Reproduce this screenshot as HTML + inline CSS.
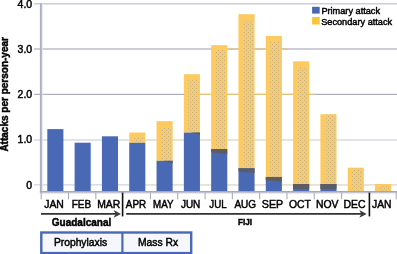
<!DOCTYPE html>
<html><head><meta charset="utf-8"><title>Attacks per person-year</title>
<style>html,body{margin:0;padding:0;background:#fff;}body{width:397px;height:254px;overflow:hidden;}svg{display:block;}</style>
</head><body>
<svg width="397" height="254" viewBox="0 0 397 254">
<defs><pattern id="dots" width="4" height="4" patternUnits="userSpaceOnUse"><rect x="0" y="0" width="1" height="1" fill="#c2b291"/><rect x="2" y="2" width="1" height="1" fill="#c2b291"/></pattern></defs>
<rect width="397" height="254" fill="#fff"/>
<rect x="34" y="184.25" width="363" height="1.2" fill="#cdd1e4"/>
<rect x="145.33" y="184.25" width="11.21" height="1.2" fill="#ede4c8"/>
<rect x="172.64" y="184.25" width="11.21" height="1.2" fill="#ede4c8"/>
<rect x="199.95" y="184.25" width="11.21" height="1.2" fill="#ede4c8"/>
<rect x="227.26" y="184.25" width="11.21" height="1.2" fill="#ede4c8"/>
<rect x="254.57" y="184.25" width="11.21" height="1.2" fill="#ede4c8"/>
<rect x="281.89" y="184.25" width="11.21" height="1.2" fill="#ede4c8"/>
<rect x="309.20" y="184.25" width="11.21" height="1.2" fill="#ede4c8"/>
<rect x="336.50" y="184.25" width="11.21" height="1.2" fill="#ede4c8"/>
<rect x="363.81" y="184.25" width="11.21" height="1.2" fill="#ede4c8"/>
<rect x="391.12" y="184.25" width="5.00" height="1.2" fill="#ede4c8"/>
<rect x="34" y="139.40" width="363" height="1.2" fill="#cdd1e4"/>
<rect x="145.33" y="139.40" width="11.21" height="1.2" fill="#ede4c8"/>
<rect x="172.64" y="139.40" width="11.21" height="1.2" fill="#ede4c8"/>
<rect x="199.95" y="139.40" width="11.21" height="1.2" fill="#ede4c8"/>
<rect x="227.26" y="139.40" width="11.21" height="1.2" fill="#ede4c8"/>
<rect x="254.57" y="139.40" width="11.21" height="1.2" fill="#ede4c8"/>
<rect x="281.89" y="139.40" width="11.21" height="1.2" fill="#ede4c8"/>
<rect x="309.20" y="139.40" width="11.21" height="1.2" fill="#ede4c8"/>
<rect x="336.50" y="139.40" width="5.00" height="1.2" fill="#ede4c8"/>
<rect x="34" y="93.80" width="363" height="1.2" fill="#adaebf"/>
<rect x="199.95" y="93.80" width="11.21" height="1.2" fill="#e3c47c"/>
<rect x="227.26" y="93.80" width="11.21" height="1.2" fill="#e3c47c"/>
<rect x="254.57" y="93.80" width="11.21" height="1.2" fill="#e3c47c"/>
<rect x="281.89" y="93.80" width="11.21" height="1.2" fill="#e3c47c"/>
<rect x="309.20" y="93.80" width="5.00" height="1.2" fill="#e3c47c"/>
<rect x="34" y="48.40" width="363" height="1.2" fill="#adaebf"/>
<rect x="227.26" y="48.40" width="11.21" height="1.2" fill="#e3c47c"/>
<rect x="254.57" y="48.40" width="11.21" height="1.2" fill="#e3c47c"/>
<rect x="281.89" y="48.40" width="5.00" height="1.2" fill="#e3c47c"/>
<rect x="34" y="3.20" width="363" height="1.2" fill="#bfc1d3"/>
<rect x="47.30" y="129.10" width="16.1" height="61.90" fill="#4a69b5"/>
<rect x="74.61" y="142.70" width="16.1" height="48.30" fill="#4a69b5"/>
<rect x="101.92" y="136.30" width="16.1" height="54.70" fill="#4a69b5"/>
<rect x="129.23" y="132.50" width="16.1" height="10.30" fill="#fdca5f"/>
<rect x="133.63" y="137.00" width="10.20" height="5.30" fill="url(#dots)"/>
<rect x="129.23" y="142.80" width="16.1" height="48.20" fill="#4a69b5"/>
<rect x="156.54" y="121.10" width="16.1" height="39.70" fill="#fdca5f"/>
<rect x="160.94" y="127.10" width="10.20" height="33.20" fill="url(#dots)"/>
<rect x="156.54" y="160.80" width="16.1" height="30.20" fill="#4a69b5"/>
<polygon points="163.54,160.80 172.64,160.80 172.64,163.60 170.64,162.80" fill="#5c5c62"/>
<rect x="183.85" y="74.20" width="16.1" height="58.40" fill="#fdca5f"/>
<rect x="188.25" y="80.20" width="10.20" height="51.90" fill="url(#dots)"/>
<rect x="183.85" y="132.60" width="16.1" height="58.40" fill="#4a69b5"/>
<polygon points="190.85,132.60 199.95,132.60 199.95,135.40 197.95,134.60" fill="#5c5c62"/>
<rect x="211.16" y="45.20" width="16.1" height="103.90" fill="#fdca5f"/>
<rect x="215.56" y="50.20" width="10.20" height="98.40" fill="url(#dots)"/>
<rect x="211.16" y="149.10" width="16.1" height="41.90" fill="#4a69b5"/>
<polygon points="211.16,149.10 227.26,149.10 227.26,154.20 211.16,152.30" fill="#5c5c62"/>
<rect x="238.47" y="14.20" width="16.1" height="154.00" fill="#fdca5f"/>
<rect x="242.88" y="20.70" width="10.20" height="147.00" fill="url(#dots)"/>
<rect x="238.47" y="168.20" width="16.1" height="22.80" fill="#4a69b5"/>
<polygon points="238.47,168.20 254.57,168.20 254.57,173.00 238.47,171.60" fill="#5c5c62"/>
<rect x="265.79" y="36.00" width="16.1" height="140.90" fill="#fdca5f"/>
<rect x="270.19" y="42.00" width="10.20" height="134.40" fill="url(#dots)"/>
<rect x="265.79" y="176.90" width="16.1" height="14.10" fill="#4a69b5"/>
<polygon points="265.79,176.90 281.89,176.90 281.89,181.50 265.79,180.40" fill="#5c5c62"/>
<rect x="293.10" y="61.30" width="16.1" height="122.70" fill="#fdca5f"/>
<rect x="297.50" y="67.30" width="10.20" height="116.20" fill="url(#dots)"/>
<rect x="293.10" y="184.00" width="16.1" height="7.00" fill="#4a69b5"/>
<polygon points="293.10,184.00 309.20,184.00 309.20,188.90 293.10,188.90" fill="#5c5c62"/>
<rect x="320.40" y="114.20" width="16.1" height="69.80" fill="#fdca5f"/>
<rect x="324.80" y="114.70" width="10.20" height="68.80" fill="url(#dots)"/>
<rect x="320.40" y="184.00" width="16.1" height="7.00" fill="#4a69b5"/>
<polygon points="320.40,184.00 336.50,184.00 336.50,188.90 320.40,188.90" fill="#5c5c62"/>
<rect x="347.71" y="167.70" width="16.1" height="23.30" fill="#fdca5f"/>
<rect x="352.11" y="168.70" width="10.20" height="21.80" fill="url(#dots)"/>
<rect x="375.02" y="184.00" width="16.1" height="7.00" fill="#fdca5f"/>
<rect x="379.42" y="185.00" width="10.20" height="5.50" fill="url(#dots)"/>
<rect x="41.7" y="3.2" width="1.1" height="190.5" fill="#e2e8f6"/>
<rect x="39.9" y="192.5" width="357.10" height="1.2" fill="#dbe2f3"/>
<rect x="39.9" y="3.2" width="1.9" height="189.4" fill="#adaec0"/>
<rect x="39.9" y="191.0" width="357.10" height="1.6" fill="#a6a7b9"/>
<rect x="40.65" y="192.6" width="1.1" height="6.7" fill="#abacbe"/>
<rect x="67.96" y="192.6" width="1.1" height="6.7" fill="#abacbe"/>
<rect x="95.27" y="192.6" width="1.1" height="6.7" fill="#abacbe"/>
<rect x="149.89" y="192.6" width="1.1" height="6.7" fill="#abacbe"/>
<rect x="177.20" y="192.6" width="1.1" height="6.7" fill="#abacbe"/>
<rect x="204.51" y="192.6" width="1.1" height="6.7" fill="#abacbe"/>
<rect x="231.82" y="192.6" width="1.1" height="6.7" fill="#abacbe"/>
<rect x="259.13" y="192.6" width="1.1" height="6.7" fill="#abacbe"/>
<rect x="286.44" y="192.6" width="1.1" height="6.7" fill="#abacbe"/>
<rect x="313.75" y="192.6" width="1.1" height="6.7" fill="#abacbe"/>
<rect x="341.06" y="192.6" width="1.1" height="6.7" fill="#abacbe"/>
<rect x="395.68" y="192.6" width="1.1" height="6.7" fill="#abacbe"/>
<rect x="121.80" y="192.6" width="1.6" height="23.8" fill="#111"/>
<rect x="368.60" y="192.6" width="1.6" height="23.8" fill="#111"/>
<rect x="41.00" y="213.15" width="77.00" height="1.5" fill="#111"/>
<polygon points="121.00,213.90 113.60,210.00 115.60,213.90 113.60,217.80" fill="#3a3a3a"/>
<rect x="126.20" y="213.15" width="237.50" height="1.5" fill="#111"/>
<polygon points="366.70,213.90 359.30,210.00 361.30,213.90 359.30,217.80" fill="#3a3a3a"/>
<text transform="translate(32.20,188.85) scale(1.05,1)" text-anchor="end" font-size="10" font-family="Liberation Sans, Arial, Helvetica, sans-serif" fill="#000" stroke="#000" stroke-width="0.45">0</text>
<text transform="translate(32.20,143.45) scale(1.05,1)" text-anchor="end" font-size="10" font-family="Liberation Sans, Arial, Helvetica, sans-serif" fill="#000" stroke="#000" stroke-width="0.45">1.0</text>
<text transform="translate(32.20,98.25) scale(1.05,1)" text-anchor="end" font-size="10" font-family="Liberation Sans, Arial, Helvetica, sans-serif" fill="#000" stroke="#000" stroke-width="0.45">2.0</text>
<text transform="translate(32.20,53.25) scale(1.05,1)" text-anchor="end" font-size="10" font-family="Liberation Sans, Arial, Helvetica, sans-serif" fill="#000" stroke="#000" stroke-width="0.45">3.0</text>
<text transform="translate(32.20,7.70) scale(1.05,1)" text-anchor="end" font-size="10" font-family="Liberation Sans, Arial, Helvetica, sans-serif" fill="#000" stroke="#000" stroke-width="0.45">4.0</text>
<text transform="translate(54.05,207.60) scale(1.04,1)" text-anchor="middle" font-size="10" font-family="Liberation Sans, Arial, Helvetica, sans-serif" fill="#000" stroke="#000" stroke-width="0.45">JAN</text>
<text transform="translate(81.36,207.60) scale(1.0,1)" text-anchor="middle" font-size="10" font-family="Liberation Sans, Arial, Helvetica, sans-serif" fill="#000" stroke="#000" stroke-width="0.45">FEB</text>
<text transform="translate(108.67,207.60) scale(1.04,1)" text-anchor="middle" font-size="10" font-family="Liberation Sans, Arial, Helvetica, sans-serif" fill="#000" stroke="#000" stroke-width="0.45">MAR</text>
<text transform="translate(135.98,207.60) scale(0.99,1)" text-anchor="middle" font-size="10" font-family="Liberation Sans, Arial, Helvetica, sans-serif" fill="#000" stroke="#000" stroke-width="0.45">APR</text>
<text transform="translate(163.29,207.60) scale(0.98,1)" text-anchor="middle" font-size="10" font-family="Liberation Sans, Arial, Helvetica, sans-serif" fill="#000" stroke="#000" stroke-width="0.45">MAY</text>
<text transform="translate(190.60,207.60) scale(1.0,1)" text-anchor="middle" font-size="10" font-family="Liberation Sans, Arial, Helvetica, sans-serif" fill="#000" stroke="#000" stroke-width="0.45">JUN</text>
<text transform="translate(217.91,207.60) scale(0.97,1)" text-anchor="middle" font-size="10" font-family="Liberation Sans, Arial, Helvetica, sans-serif" fill="#000" stroke="#000" stroke-width="0.45">JUL</text>
<text transform="translate(245.22,207.60) scale(1.0,1)" text-anchor="middle" font-size="10" font-family="Liberation Sans, Arial, Helvetica, sans-serif" fill="#000" stroke="#000" stroke-width="0.45">AUG</text>
<text transform="translate(272.53,207.60) scale(1.07,1)" text-anchor="middle" font-size="10" font-family="Liberation Sans, Arial, Helvetica, sans-serif" fill="#000" stroke="#000" stroke-width="0.45">SEP</text>
<text transform="translate(299.84,207.60) scale(1.04,1)" text-anchor="middle" font-size="10" font-family="Liberation Sans, Arial, Helvetica, sans-serif" fill="#000" stroke="#000" stroke-width="0.45">OCT</text>
<text transform="translate(327.15,207.60) scale(1.04,1)" text-anchor="middle" font-size="10" font-family="Liberation Sans, Arial, Helvetica, sans-serif" fill="#000" stroke="#000" stroke-width="0.45">NOV</text>
<text transform="translate(354.46,207.60) scale(1.045,1)" text-anchor="middle" font-size="10" font-family="Liberation Sans, Arial, Helvetica, sans-serif" fill="#000" stroke="#000" stroke-width="0.45">DEC</text>
<text transform="translate(381.77,207.60) scale(1.03,1)" text-anchor="middle" font-size="10" font-family="Liberation Sans, Arial, Helvetica, sans-serif" fill="#000" stroke="#000" stroke-width="0.45">JAN</text>
<text transform="translate(51.80,226.40) scale(1.0,1)" text-anchor="start" font-size="10" font-weight="bold" font-family="Liberation Sans, Arial, Helvetica, sans-serif" fill="#000" stroke="#000" stroke-width="0.45">Guadalcanal</text>
<text transform="translate(238.00,225.30) scale(0.91,1)" text-anchor="start" font-size="9" font-weight="bold" font-family="Liberation Sans, Arial, Helvetica, sans-serif" fill="#000" stroke="#000" stroke-width="0.45">FIJI</text>
<text transform="translate(8.30,151.60) rotate(-90) scale(1.0,1)" text-anchor="start" font-size="10" font-weight="bold" font-family="Liberation Sans, Arial, Helvetica, sans-serif" fill="#000" stroke="#000" stroke-width="0.45">Attacks per person-year</text>
<rect x="312.1" y="6.8" width="7.6" height="6.8" fill="#4a69b5"/>
<rect x="312.1" y="17.0" width="7.6" height="7.5" fill="#fcc535"/>
<text transform="translate(321.40,13.90) scale(1.01,1)" text-anchor="start" font-size="9.1" font-family="Liberation Sans, Arial, Helvetica, sans-serif" fill="#000" stroke="#000" stroke-width="0.45">Primary attack</text>
<text transform="translate(321.20,24.80) scale(1.012,1)" text-anchor="start" font-size="9.1" font-family="Liberation Sans, Arial, Helvetica, sans-serif" fill="#000" stroke="#000" stroke-width="0.45">Secondary attack</text>
<rect x="41.3" y="232.5" width="149.9" height="20.6" fill="#f5f7fc" stroke="#4a69b5" stroke-width="2.4"/>
<rect x="121.3" y="232.5" width="2.2" height="20.6" fill="#4a69b5"/>
<text transform="translate(80.50,246.20) scale(1.0,1)" text-anchor="middle" font-size="10.3" font-family="Liberation Sans, Arial, Helvetica, sans-serif" fill="#000" stroke="#000" stroke-width="0.45">Prophylaxis</text>
<text transform="translate(158.00,246.20) scale(1.0,1)" text-anchor="middle" font-size="10.3" font-family="Liberation Sans, Arial, Helvetica, sans-serif" fill="#000" stroke="#000" stroke-width="0.45">Mass Rx</text>
</svg>
</body></html>
